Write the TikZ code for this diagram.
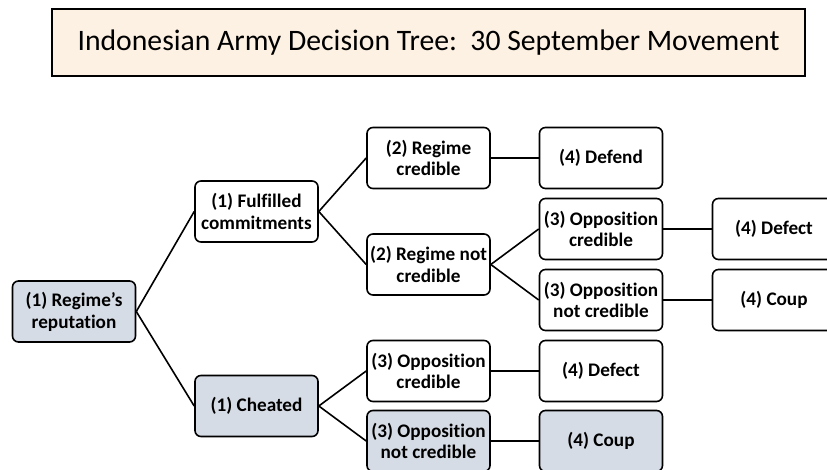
\documentclass[tikz,border=0pt]{standalone}
\usepackage{fontspec}
\setmainfont[Ligatures={TeX,NoCommon}]{Carlito}
\definecolor{boxgrey}{HTML}{D6DCE5}
\definecolor{titlefill}{HTML}{FDF1E3}
\begin{document}
\begin{tikzpicture}[x=1pt,y=-1pt,
  box/.style={draw=black, line width=1.6pt, rounded corners=6pt, fill=white,
    minimum width=123pt, minimum height=61pt, inner sep=0pt, align=center,
    font=\bfseries\fontsize{19.2}{21.8}\selectfont},
  greybox/.style={box, fill=boxgrey},
  link/.style={draw=black, line width=1.6pt},
  titlebox/.style={draw=black, line width=1.4pt, fill=titlefill,
    minimum width=753pt, minimum height=67pt, inner sep=0pt,
    font=\fontsize{29.7}{34}\selectfont}]
\useasboundingbox (0,0) rectangle (827,470);
\clip (0,0) rectangle (827,470);
\fill[white] (0,0) rectangle (827,470);

% heading
\node[titlebox] (title) at (428.5,42.5) {Indonesian Army Decision Tree:\ \ 30 September Movement};

% first level
\node[greybox] (rep) at (74,311.5) {(1) Regime’s\\reputation};
\node[box] (ful) at (256.5,211.5) {(1) Fulfilled\\commitments};
\node[greybox] (cheat) at (256.5,406) {(1) Cheated};

% branch: fulfilled commitments
\node[box] (rc) at (428.5,158) {(2) Regime\\credible};
\node[box] (defend) at (601,158) {(4) Defend};
\node[box] (rnc) at (428.5,264.5) {(2) Regime not\\credible};
\node[box] (oca) at (601,229) {(3) Opposition\\credible};
\node[box] (onca) at (601,300) {(3) Opposition\\not credible};
\node[box] (defa) at (774,229) {(4) Defect};
\node[box] (coupa) at (774,300) {(4) Coup};

% branch: cheated
\node[box] (ocb) at (428.5,371) {(3) Opposition\\credible};
\node[box] (defb) at (601,371) {(4) Defect};
\node[greybox] (oncb) at (428.5,441) {(3) Opposition\\not credible};
\node[greybox] (coupb) at (601,441) {(4) Coup};

% connectors
\draw[link] (rep.east) -- (ful.west);
\draw[link] (rep.east) -- (cheat.west);
\draw[link] (ful.east) -- (rc.west);
\draw[link] (ful.east) -- (rnc.west);
\draw[link] (rc.east) -- (defend.west);
\draw[link] (rnc.east) -- (oca.west);
\draw[link] (rnc.east) -- (onca.west);
\draw[link] (oca.east) -- (defa.west);
\draw[link] (onca.east) -- (coupa.west);
\draw[link] (cheat.east) -- (ocb.west);
\draw[link] (cheat.east) -- (oncb.west);
\draw[link] (ocb.east) -- (defb.west);
\draw[link] (oncb.east) -- (coupb.west);
\end{tikzpicture}
\end{document}
